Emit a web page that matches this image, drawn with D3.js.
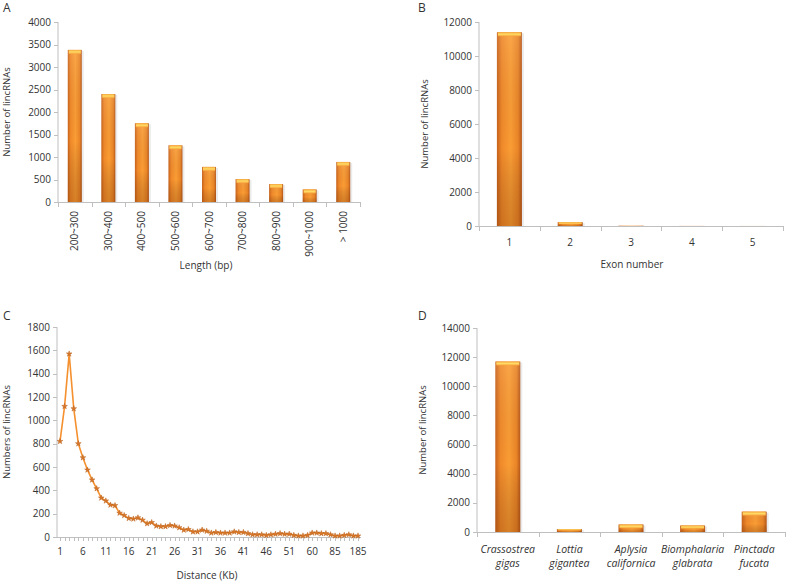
<!DOCTYPE html>
<html>
<head>
<meta charset="utf-8">
<script src="https://cdn.jsdelivr.net/npm/d3@7"></script>
<style>
  body { margin: 0; background: #fff; }
  text { font-family: "Open Sans", "DejaVu Sans", sans-serif; fill: #333; }
</style>
</head>
<body>
<div id="chart"></div>
<script>
// A. length distribution
var lengthCats = ["200~300", "300~400", "400~500", "500~600", "600~700", "700~800", "800~900", "900~1000", "> 1000"];
var lengthVals = [3380, 2400, 1750, 1260, 780, 510, 400, 280, 890];
var lengthTicks = [0, 500, 1000, 1500, 2000, 2500, 3000, 3500, 4000];

// B. exon number
var exonCats = ["1", "2", "3", "4", "5"];
var exonVals = [11400, 230, 20, 5, 3];
var exonTicks = [0, 2000, 4000, 6000, 8000, 10000, 12000];

// C. distance to neighbouring gene
var distCats = [];
for (var i = 1; i <= 51; i++) distCats.push(String(i));
distCats = distCats.concat(["52", "53", "54", "55", "60", "65", "70", "75", "80", "85", "95", "105", "125", "155", "185"]);
var distVals = [820, 1120, 1570, 1100, 800, 680, 575, 490, 415, 335, 310, 275, 270, 205, 185, 160, 155, 165, 145, 115,
                125, 95, 90, 90, 100, 95, 80, 60, 65, 45, 45, 60, 50, 35, 40, 35, 35, 35, 45, 40,
                40, 30, 20, 20, 20, 15, 20, 25, 30, 25, 25, 15, 10, 10, 15, 35, 35, 30, 30, 20,
                10, 10, 15, 20, 10, 10];
var distTicks = [0, 200, 400, 600, 800, 1000, 1200, 1400, 1600, 1800];
var distLabelCats = ["1", "6", "11", "16", "21", "26", "31", "36", "41", "46", "51", "60", "85", "185"];

// D. species
var speciesCats = [["Crassostrea", "gigas"], ["Lottia", "gigantea"], ["Aplysia", "californica"], ["Biomphalaria", "glabrata"], ["Pinctada", "fucata"]];
var speciesVals = [11700, 200, 520, 450, 1400];
var speciesTicks = [0, 2000, 4000, 6000, 8000, 10000, 12000, 14000];

var W = 787, H = 583;
var svg = d3.select("#chart").append("svg").attr("width", W).attr("height", H);

// bar gradients
var defs = svg.append("defs");
var gH = defs.append("linearGradient").attr("id", "barH").attr("x1", "0").attr("x2", "1").attr("y1", "0").attr("y2", "0");
gH.append("stop").attr("offset", "0").attr("stop-color", "#c8621b");
gH.append("stop").attr("offset", "0.2").attr("stop-color", "#f0892a");
gH.append("stop").attr("offset", "0.55").attr("stop-color", "#fa9d35");
gH.append("stop").attr("offset", "0.85").attr("stop-color", "#ea8527");
gH.append("stop").attr("offset", "1").attr("stop-color", "#b8581a");
var gV = defs.append("linearGradient").attr("id", "barV").attr("x1", "0").attr("x2", "0").attr("y1", "0").attr("y2", "1");
gV.append("stop").attr("offset", "0").attr("stop-color", "#ffffff").attr("stop-opacity", 0.1);
gV.append("stop").attr("offset", "0.6").attr("stop-color", "#000000").attr("stop-opacity", 0);
gV.append("stop").attr("offset", "1").attr("stop-color", "#6b2a00").attr("stop-opacity", 0.25);
var gCap = defs.append("linearGradient").attr("id", "barCap").attr("x1", "0").attr("x2", "0").attr("y1", "0").attr("y2", "1");
gCap.append("stop").attr("offset", "0").attr("stop-color", "#f5a43a");
gCap.append("stop").attr("offset", "0.5").attr("stop-color", "#ffdc66");
gCap.append("stop").attr("offset", "1").attr("stop-color", "#f7a23a");

var axisColor = "#bfbfbf";

function yAxis(g, y, ticks, x0) {
    g.append("line").attr("x1", x0).attr("x2", x0).attr("y1", y.range()[0]).attr("y2", y.range()[1]).attr("stroke", axisColor);
    g.selectAll(".yt").data(ticks).enter().append("line")
        .attr("x1", x0 - 4).attr("x2", x0).attr("y1", function(d) { return Math.round(y(d)) + 0.5; })
        .attr("y2", function(d) { return Math.round(y(d)) + 0.5; }).attr("stroke", axisColor);
    g.selectAll(".yl").data(ticks).enter().append("text")
        .attr("x", x0 - 7).attr("y", function(d) { return y(d); }).attr("dy", "0.35em")
        .attr("text-anchor", "end").attr("font-size", 10).text(function(d) { return d; });
}

function barPanel(o) {
    var g = svg.append("g");
    var x = d3.scaleBand().domain(d3.range(o.vals.length)).range([o.x0, o.x1]);
    var y = d3.scaleLinear().domain([0, o.ticks[o.ticks.length - 1]]).range([o.y0, o.y1]);
    yAxis(g, y, o.ticks, o.x0);
    // x axis line + boundary ticks
    g.append("line").attr("x1", o.x0).attr("x2", o.x1).attr("y1", o.y0 + 0.5).attr("y2", o.y0 + 0.5).attr("stroke", axisColor);
    g.selectAll(".xt").data(d3.range(o.vals.length + 1)).enter().append("line")
        .attr("x1", function(d) { return Math.round(o.x0 + d * x.step()) + 0.5; })
        .attr("x2", function(d) { return Math.round(o.x0 + d * x.step()) + 0.5; })
        .attr("y1", o.y0).attr("y2", o.y0 + 5).attr("stroke", axisColor);

    var bars = g.selectAll(".bar").data(o.vals).enter().append("g");
    function bx(d, i) { return x(i) + (x.step() - o.bw) / 2; }
    // soft shadow
    bars.append("rect").attr("x", function(d, i) { return bx(d, i) + 2; }).attr("y", function(d) { return y(d) + 1; })
        .attr("width", o.bw).attr("height", function(d) { return o.y0 - y(d) - 1; })
        .attr("fill", "#000").attr("opacity", 0.08);
    bars.append("rect").attr("x", bx).attr("y", function(d) { return y(d); })
        .attr("width", o.bw).attr("height", function(d) { return o.y0 - y(d); }).attr("fill", "url(#barH)");
    bars.append("rect").attr("x", bx).attr("y", function(d) { return y(d); })
        .attr("width", o.bw).attr("height", function(d) { return o.y0 - y(d); }).attr("fill", "url(#barV)");
    bars.filter(function(d) { return o.y0 - y(d) > 1.5; }).append("rect")
        .attr("x", function(d) { return bx(d, o.vals.indexOf(d)) + 1; })
        .attr("y", function(d) { return y(d); })
        .attr("width", o.bw - 2).attr("height", function(d) { return Math.min(4, (o.y0 - y(d)) / 2); })
        .attr("fill", "url(#barCap)");

    // category labels
    if (o.rotate) {
        g.selectAll(".xl").data(o.cats).enter().append("text")
            .attr("transform", function(d, i) { return "translate(" + (x(i) + x.step() / 2) + "," + (o.y0 + 9) + ") rotate(-90)"; })
            .attr("dy", "0.35em").attr("text-anchor", "end").attr("font-size", 10).text(function(d) { return d; });
    } else if (o.twoLine) {
        var t = g.selectAll(".xl").data(o.cats).enter().append("text")
            .attr("text-anchor", "middle").attr("font-size", 10.5).attr("font-style", "italic");
        t.append("tspan").attr("x", function(d, i) { return x(i) + x.step() / 2; }).attr("y", o.y0 + 21).text(function(d) { return d[0]; });
        t.append("tspan").attr("x", function(d, i) { return x(i) + x.step() / 2; }).attr("y", o.y0 + 35).text(function(d) { return d[1]; });
    } else {
        g.selectAll(".xl").data(o.cats).enter().append("text")
            .attr("x", function(d, i) { return x(i) + x.step() / 2; }).attr("y", o.y0 + 20)
            .attr("text-anchor", "middle").attr("font-size", 10).text(function(d) { return d; });
    }
    if (o.xTitle) g.append("text").attr("x", o.xTitleX).attr("y", o.xTitleY).attr("text-anchor", "middle")
        .attr("font-size", 10).text(o.xTitle);
    g.append("text").attr("transform", "translate(" + o.yTitleX + "," + ((o.y0 + o.y1) / 2) + ") rotate(-90)")
        .attr("text-anchor", "middle").attr("font-size", 9.5).attr("dy", "0.35em").text(o.yTitle);
    g.append("text").attr("x", o.labelX).attr("y", o.labelY).attr("font-size", 12).attr("fill", "#222").text(o.label);
}

barPanel({cats: lengthCats, vals: lengthVals, ticks: lengthTicks, x0: 58, x1: 360, y0: 202, y1: 22, bw: 14, rotate: true,
    xTitle: "Length (bp)", xTitleX: 206, xTitleY: 269, yTitle: "Number of lincRNAs", yTitleX: 7, label: "A", labelX: 3, labelY: 12});
barPanel({cats: exonCats, vals: exonVals, ticks: exonTicks, x0: 479, x1: 783, y0: 226, y1: 22, bw: 25,
    xTitle: "Exon number", xTitleX: 632, xTitleY: 268, yTitle: "Number of lincRNAs", yTitleX: 425, label: "B", labelX: 418, labelY: 12});
barPanel({cats: speciesCats, vals: speciesVals, ticks: speciesTicks, x0: 477, x1: 785, y0: 532, y1: 328, bw: 25, twoLine: true,
    yTitle: "Number of lincRNAs", yTitleX: 423, label: "D", labelX: 418, labelY: 320});

// C. line panel
(function() {
    var g = svg.append("g");
    var x0 = 57, x1 = 361, y0 = 537, y1 = 327;
    var x = d3.scalePoint().domain(distCats).range([x0 + 3, x1 - 3]);
    var y = d3.scaleLinear().domain([0, 1800]).range([y0, y1]);
    yAxis(g, y, distTicks, x0);
    g.append("line").attr("x1", x0).attr("x2", x1).attr("y1", y0 + 0.5).attr("y2", y0 + 0.5).attr("stroke", axisColor);
    g.selectAll(".xt").data(distCats).enter().append("line")
        .attr("x1", function(d) { return Math.round(x(d)) + 0.5; }).attr("x2", function(d) { return Math.round(x(d)) + 0.5; })
        .attr("y1", y0).attr("y2", y0 + 4).attr("stroke", axisColor);
    g.selectAll(".xl").data(distLabelCats).enter().append("text")
        .attr("x", function(d) { return x(d); }).attr("y", y0 + 18).attr("text-anchor", "middle")
        .attr("font-size", 10).text(function(d) { return d; });

    var line = d3.line().x(function(d, i) { return x(distCats[i]); }).y(function(d) { return y(d); });
    g.append("path").datum(distVals).attr("d", line).attr("fill", "none").attr("stroke", "#f5902f").attr("stroke-width", 1.6);
    var star = d3.symbol().type(d3.symbolStar).size(10);
    g.selectAll(".pt").data(distVals).enter().append("path")
        .attr("transform", function(d, i) { return "translate(" + x(distCats[i]) + "," + y(d) + ")"; })
        .attr("d", star).attr("fill", "#d9772a").attr("stroke", "#b8631f").attr("stroke-width", 0.5);

    g.append("text").attr("x", 207).attr("y", 579).attr("text-anchor", "middle").attr("font-size", 10).text("Distance (Kb)");
    g.append("text").attr("transform", "translate(7," + ((y0 + y1) / 2) + ") rotate(-90)")
        .attr("text-anchor", "middle").attr("font-size", 9.5).attr("dy", "0.35em").text("Numbers of lincRNAs");
    g.append("text").attr("x", 3).attr("y", 320).attr("font-size", 12).attr("fill", "#222").text("C");
})();
</script>
</body>
</html>
